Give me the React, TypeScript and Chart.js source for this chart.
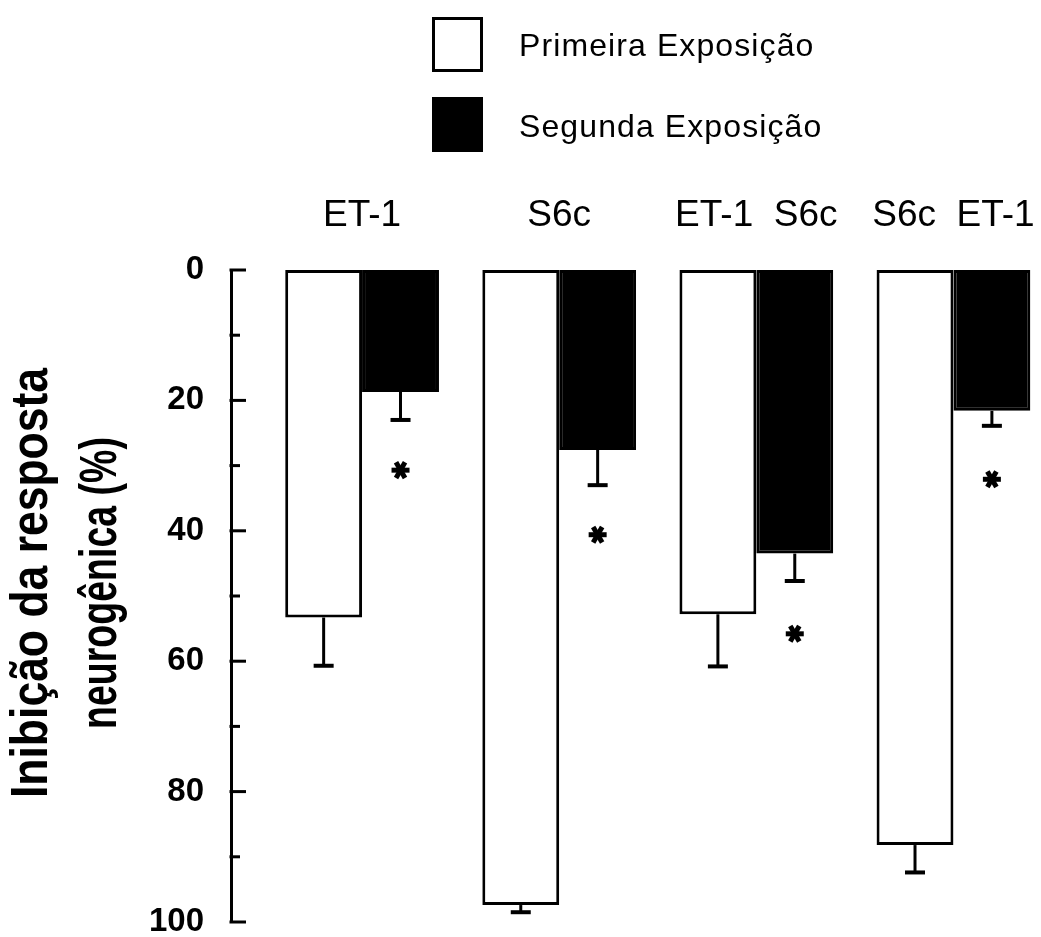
import React, { useEffect, useRef } from 'react';
import { Chart, registerables } from 'chart.js';

Chart.register(...registerables);

// ---- data ----
const categories = ['ET-1', 'S6c', 'ET-1  S6c', 'S6c  ET-1'];
const seriesLabels = ['Primeira Exposição', 'Segunda Exposição'];
const primeira = [53.3, 97.4, 52.8, 88.2];
const segunda = [18.7, 27.6, 43.5, 21.6];
const primeiraErr = [7.4, 1.1, 8.0, 4.2];
const segundaErr = [4.3, 5.4, 4.2, 2.3];
const asteriskAt = [30.7, 40.6, 55.8, 32.1];
const yTitle = ['Inibição da resposta', 'neurogênica (%)'];

const FONT = '"Liberation Sans", Arial, sans-serif';

const decorPlugin = {
  id: 'decor',
  afterDatasetsDraw(chart: any) {
    const { ctx, chartArea } = chart;
    const y = chart.scales.y;
    ctx.save();
    ctx.strokeStyle = '#000';
    ctx.fillStyle = '#000';
    ctx.lineCap = 'butt';

    // inward tick marks on the y axis
    ctx.lineWidth = 3;
    y.ticks.forEach((t: any) => {
      const py = y.getPixelForValue(t.value);
      const major = t.value % 20 === 0;
      ctx.beginPath();
      ctx.moveTo(chartArea.left - 1.5, py);
      ctx.lineTo(chartArea.left + (major ? 15 : 9), py);
      ctx.stroke();
    });

    // error bars (one-sided, pointing away from zero)
    const sets = [
      { vals: primeira, errs: primeiraErr },
      { vals: segunda, errs: segundaErr },
    ];
    sets.forEach((s, di) => {
      const meta = chart.getDatasetMeta(di);
      meta.data.forEach((bar: any, i: number) => {
        const y0 = y.getPixelForValue(s.vals[i]);
        const y1 = y.getPixelForValue(s.vals[i] + s.errs[i]);
        ctx.lineWidth = 3;
        ctx.beginPath();
        ctx.moveTo(bar.x, y0);
        ctx.lineTo(bar.x, y1);
        ctx.stroke();
        ctx.lineWidth = 4;
        ctx.beginPath();
        ctx.moveTo(bar.x - 10, y1);
        ctx.lineTo(bar.x + 10, y1);
        ctx.stroke();
      });
    });

    // significance asterisks under the second-exposure bars
    const meta2 = chart.getDatasetMeta(1);
    meta2.data.forEach((bar: any, i: number) => {
      const cx = bar.x;
      const cy = y.getPixelForValue(asteriskAt[i]);
      ctx.lineWidth = 5;
      [0, 60, 120].forEach((deg) => {
        const a = (deg * Math.PI) / 180;
        const dx = Math.cos(a) * 9;
        const dy = Math.sin(a) * 9;
        ctx.beginPath();
        ctx.moveTo(cx - dx, cy - dy);
        ctx.lineTo(cx + dx, cy + dy);
        ctx.stroke();
      });
    });
    ctx.restore();
  },
  afterDraw(chart: any) {
    const { ctx } = chart;
    ctx.save();
    // legend
    const ds = chart.data.datasets;
    const rows = [
      { top: 17, base: 56 },
      { top: 97, base: 137 },
    ];
    ds.forEach((d: any, i: number) => {
      const r = rows[i];
      ctx.fillStyle = d.backgroundColor;
      ctx.fillRect(432, r.top, 51, 55);
      ctx.strokeStyle = '#000';
      ctx.lineWidth = 3;
      ctx.strokeRect(433.5, r.top + 1.5, 48, 52);
      ctx.fillStyle = '#000';
      ctx.font = `32px ${FONT}`;
      (ctx as any).letterSpacing = '1.1px';
      ctx.textAlign = 'left';
      ctx.textBaseline = 'alphabetic';
      ctx.fillText(d.label, 519, r.base);
    });
    (ctx as any).letterSpacing = '0px';

    // y-axis title (two rotated lines)
    const cy = 583;
    const baselines = [47, 116];
    const widths = [430, 292];
    ctx.font = `bold 52px ${FONT}`;
    ctx.textAlign = 'center';
    ctx.textBaseline = 'alphabetic';
    ctx.fillStyle = '#000';
    yTitle.forEach((line, i) => {
      const natural = ctx.measureText(line).width;
      ctx.save();
      ctx.translate(baselines[i], cy);
      ctx.rotate(-Math.PI / 2);
      ctx.scale(widths[i] / natural, 1);
      ctx.fillText(line, 0, 0);
      ctx.restore();
    });
    ctx.restore();
  },
};

export default function App() {
  const ref = useRef<HTMLCanvasElement | null>(null);

  useEffect(() => {
    if (!ref.current) return;
    const chart = new Chart(ref.current, {
      type: 'bar',
      data: {
        datasets: [
          {
            label: seriesLabels[0],
            data: primeira.map((v, i) => ({ x: i, y: v })),
            backgroundColor: '#ffffff',
            borderColor: '#000000',
            borderWidth: 3,
            borderSkipped: false,
          },
          {
            label: seriesLabels[1],
            data: segunda.map((v, i) => ({ x: i, y: v })),
            backgroundColor: '#000000',
            borderColor: '#000000',
            borderWidth: 3,
            borderSkipped: false,
          },
        ],
      } as any,
      options: {
        responsive: false,
        animation: false,
        categoryPercentage: 0.78,
        barPercentage: 1,
        layout: { padding: { top: 0, left: 0, right: 2, bottom: 15 } },
        plugins: { legend: { display: false }, tooltip: { enabled: false } },
        scales: {
          x: {
            type: 'linear',
            position: 'top',
            offset: false,
            min: -0.665,
            max: 3.434,
            grid: { display: false, drawTicks: true, tickLength: 32 },
            border: { display: false },
            afterBuildTicks: (s: any) => {
              s.ticks = categories.map((_, i) => ({ value: i }));
            },
            afterFit: (s: any) => {
              s.height = 270;
            },
            ticks: {
              autoSkip: false,
              maxRotation: 0,
              minRotation: 0,
              padding: 0,
              color: '#000',
              font: { family: FONT, size: 37 },
              callback: (v: any) => categories[v as number] ?? '',
            },
          },
          y: {
            type: 'linear',
            reverse: true,
            min: 0,
            max: 100,
            grid: { display: false, drawTicks: true, tickLength: 27 },
            border: { display: true, color: '#000', width: 3 },
            afterFit: (s: any) => {
              s.width = 231;
            },
            ticks: {
              stepSize: 10,
              autoSkip: false,
              padding: 0,
              color: '#000',
              font: { family: FONT, size: 33, weight: 'bold', lineHeight: 0.8 },
              callback: (v: any) => ((v as number) % 20 === 0 ? String(v) : ''),
            },
          },
        },
      } as any,
      plugins: [decorPlugin],
    });
    return () => chart.destroy();
  }, []);

  return (
    <div style={{ position: 'absolute', left: 0, top: 0, width: 1041, height: 937, background: '#fff' }}>
      <canvas ref={ref} width={1041} height={937} style={{ display: 'block' }} />
    </div>
  );
}
